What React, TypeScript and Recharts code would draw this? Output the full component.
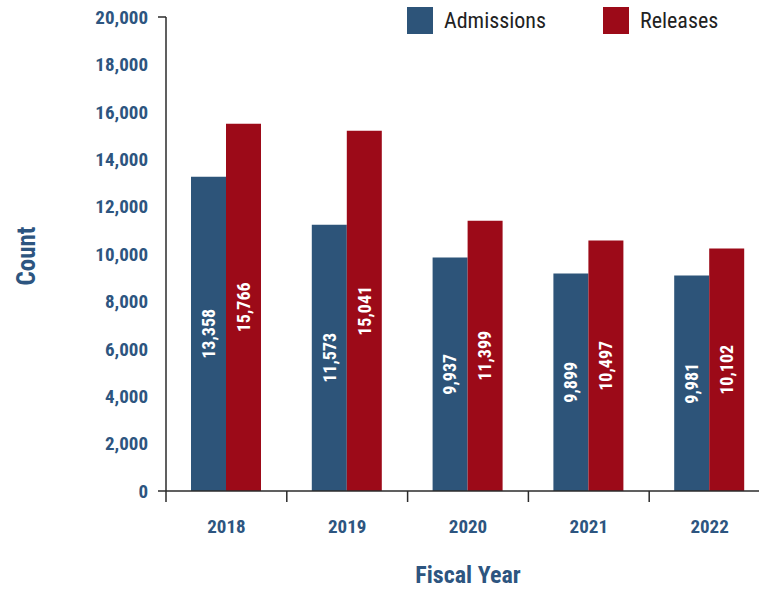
import { BarChart, Bar, XAxis, YAxis, Legend, LabelList } from 'recharts';

const years = ['2018', '2019', '2020', '2021', '2022'];
// bar heights as drawn in the picture
const admissions = [13263, 11239, 9848, 9174, 9089];
const releases = [15497, 15202, 11408, 10565, 10228];
// printed labels (differ slightly from the bar heights in the source)
const admissionLabels = ['13,358', '11,573', '9,937', '9,899', '9,981'];
const releaseLabels = ['15,766', '15,041', '11,399', '10,497', '10,102'];
const yTicks = [0, 2000, 4000, 6000, 8000, 10000, 12000, 14000, 16000, 18000, 20000];

const COLORS = {
  admissions: '#2d5479',
  releases: '#9c0a18',
  text: '#2d5580',
  axis: '#2b2b2b',
};

const FONT = "'Roboto Condensed', 'Liberation Sans Narrow', 'DejaVu Sans Condensed', 'Arial Narrow', sans-serif";

const data = years.map((year, i) => ({
  year,
  admissions: admissions[i],
  releases: releases[i],
  admissionLabel: admissionLabels[i],
  releaseLabel: releaseLabels[i],
}));

const YTick = (props: any) => {
  const { x, y, payload } = props;
  const isEnd = payload.value === 0 || payload.value === 20000;
  return (
    <g>
      <text
        x={x - 10}
        y={y}
        dy='0.36em'
        textAnchor='end'
        fill={COLORS.text}
        fontFamily={FONT}
        fontWeight='bold'
        fontSize={19}
      >
        {payload.value.toLocaleString('en-US')}
      </text>
      {isEnd && <line x1={x} x2={x + 8} y1={y} y2={y} stroke={COLORS.axis} strokeWidth={1.5} />}
    </g>
  );
};

const XTick = (props: any) => {
  const { x, y, payload } = props;
  const half = payload.offset ?? 60;
  return (
    <g>
      <line x1={x - half} x2={x - half} y1={y} y2={y + 11} stroke={COLORS.axis} strokeWidth={1.5} />
      <text
        x={x}
        y={y + 42}
        textAnchor='middle'
        fill={COLORS.text}
        fontFamily={FONT}
        fontWeight='bold'
        fontSize={19}
      >
        {payload.value}
      </text>
    </g>
  );
};

const CountLabel = (props: any) => {
  const { viewBox } = props;
  const cy = viewBox.y + viewBox.height / 2 + 2;
  return (
    <text
      x={35}
      y={cy}
      transform={`rotate(-90 35 ${cy})`}
      textAnchor='middle'
      fill={COLORS.text}
      fontFamily={FONT}
      fontWeight='bold'
      fontSize={25}
    >
      Count
    </text>
  );
};

const FiscalLabel = (props: any) => {
  const { viewBox } = props;
  return (
    <text
      x={viewBox.x + viewBox.width / 2}
      y={viewBox.y + 92}
      textAnchor='middle'
      fill={COLORS.text}
      fontFamily={FONT}
      fontWeight='bold'
      fontSize={24}
    >
      Fiscal Year
    </text>
  );
};

const LegendContent = () => {
  const items = [
    { name: 'Admissions', color: COLORS.admissions, left: 407 },
    { name: 'Releases', color: COLORS.releases, left: 603 },
  ];
  return (
    <div style={{ position: 'relative', width: 770, height: 40 }}>
      {items.map((item) => (
        <div
          key={item.name}
          style={{
            position: 'absolute',
            left: item.left,
            top: 7,
            display: 'flex',
            alignItems: 'center',
            height: 27,
          }}
        >
          <div style={{ width: 26, height: 27, background: item.color }} />
          <span
            style={{
              marginLeft: 11,
              fontFamily: FONT,
              fontSize: 22,
              color: '#222',
              lineHeight: '27px',
            }}
          >
            {item.name}
          </span>
        </div>
      ))}
    </div>
  );
};

export default function App() {
  return (
    <div
      style={{
        position: 'fixed',
        top: 0,
        left: 0,
        width: 759,
        height: 590,
        overflow: 'hidden',
        background: '#fff',
      }}
    >
      <BarChart
        width={770}
        height={590}
        data={data}
        margin={{ top: 17, right: 0, left: 0, bottom: 0 }}
        barGap={0}
      >
        <XAxis
          dataKey='year'
          height={99}
          axisLine={{ stroke: COLORS.axis, strokeWidth: 1.5 }}
          tickLine={false}
          tickSize={0}
          tickMargin={0}
          tick={<XTick />}
          interval={0}
          label={<FiscalLabel />}
        />
        <YAxis
          width={166}
          domain={[0, 20000]}
          ticks={yTicks}
          interval={0}
          axisLine={{ stroke: COLORS.axis, strokeWidth: 1.5 }}
          tickLine={false}
          tickSize={8}
          tickMargin={0}
          tick={<YTick />}
          label={<CountLabel />}
        />
        <Legend
          layout='horizontal'
          verticalAlign='middle'
          align='center'
          content={<LegendContent />}
          wrapperStyle={{ position: 'absolute', top: 0, left: 0, width: 770, height: 40 }}
        />
        <Bar dataKey='admissions' name='Admissions' fill={COLORS.admissions} barSize={35} isAnimationActive={false}>
          <LabelList
            dataKey='admissionLabel'
            position='center'
            angle={-90}
            fill='#fff'
            fontFamily={FONT}
            fontWeight='bold'
            fontSize={18}
          />
        </Bar>
        <Bar dataKey='releases' name='Releases' fill={COLORS.releases} barSize={35} isAnimationActive={false}>
          <LabelList
            dataKey='releaseLabel'
            position='center'
            angle={-90}
            fill='#fff'
            fontFamily={FONT}
            fontWeight='bold'
            fontSize={18}
          />
        </Bar>
      </BarChart>
    </div>
  );
}
